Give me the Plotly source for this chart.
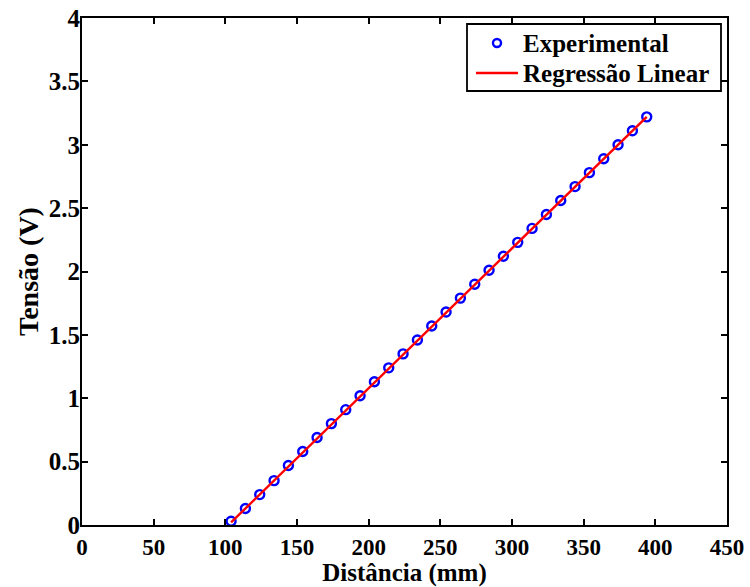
import plotly.graph_objects as go

# Experimental data
dist_mm = [104, 114, 124, 134, 144, 154, 164, 174, 184, 194,
           204, 214, 224, 234, 244, 254, 264, 274, 284, 294,
           304, 314, 324, 334, 344, 354, 364, 374, 384, 394]
tensao_v = [0.03, 0.13, 0.24, 0.35, 0.47, 0.58, 0.69, 0.80, 0.91, 1.02,
            1.13, 1.24, 1.35, 1.46, 1.57, 1.68, 1.79, 1.90, 2.01, 2.12,
            2.23, 2.34, 2.45, 2.56, 2.67, 2.78, 2.89, 3.00, 3.11, 3.22]

# Linear regression endpoints
reg_x = [104, 394]
reg_y = [0.02, 3.22]

x_ticks = [0, 50, 100, 150, 200, 250, 300, 350, 400, 450]
x_tick_labels = ["0", "50", "100", "150", "200", "250", "300", "350", "400", "450"]
y_ticks = [0, 0.5, 1, 1.5, 2, 2.5, 3, 3.5, 4]
y_tick_labels = ["0", "0.5", "1", "1.5", "2", "2.5", "3", "3.5", "4"]

series_names = ["Experimental", "Regressão Linear"]

FONT = "Liberation Serif"
BLUE = "#0000ff"
RED = "#ff0000"

fig = go.Figure()
fig.add_trace(go.Scatter(
    x=dist_mm, y=tensao_v, mode="markers", name=series_names[0],
    marker=dict(symbol="circle-open", size=9, color=BLUE,
                line=dict(width=2.4, color=BLUE)),
    showlegend=False,
))
fig.add_trace(go.Scatter(
    x=reg_x, y=reg_y, mode="lines", name=series_names[1],
    line=dict(color=RED, width=2.4),
    showlegend=False,
))

axis_common = dict(
    showline=True, linecolor="black", linewidth=2.2, mirror="allticks",
    ticks="inside", ticklen=6, tickwidth=2, tickcolor="black",
    showgrid=False, zeroline=False, automargin=False,
)

W, H = 750, 587
ML, MR, MT, MB = 82, 23, 18, 62
PW, PH = W - ML - MR, H - MT - MB


def px_x(p):
    return (p - ML) / PW


def px_y(p):
    return (H - MB - p) / PH


# Legend box (drawn with shapes + text annotations)
shapes = [
    dict(type="rect", xref="paper", yref="paper",
         x0=px_x(467), x1=px_x(721), y0=px_y(91), y1=px_y(24),
         line=dict(color="black", width=1.8), fillcolor="white", layer="above"),
    dict(type="circle", xref="paper", yref="paper",
         x0=px_x(493), x1=px_x(501), y0=px_y(47), y1=px_y(39),
         line=dict(color=BLUE, width=2.4), layer="above"),
    dict(type="line", xref="paper", yref="paper",
         x0=px_x(476), x1=px_x(518), y0=px_y(73), y1=px_y(73),
         line=dict(color=RED, width=2.4), layer="above"),
]
annotations = [
    dict(text="<b>%s</b>" % series_names[0], xref="paper", yref="paper",
         x=px_x(521), y=px_y(43), xanchor="left", yanchor="middle",
         showarrow=False, font=dict(family=FONT, size=25, color="black")),
    dict(text="<b>%s</b>" % series_names[1], xref="paper", yref="paper",
         x=px_x(521), y=px_y(73), xanchor="left", yanchor="middle",
         showarrow=False, font=dict(family=FONT, size=25, color="black")),
]

fig.update_layout(
    width=W, height=H,
    margin=dict(l=ML, r=MR, t=MT, b=MB),
    paper_bgcolor="white", plot_bgcolor="white",
    font=dict(family=FONT, color="black"),
    xaxis=dict(range=[0, 450], tickvals=x_ticks,
               ticktext=["<b>%s</b>" % t for t in x_tick_labels],
               tickfont=dict(family=FONT, size=23, color="black"),
               **axis_common,
               title=dict(text="<b>Distância (mm)</b>", standoff=0,
                          font=dict(family=FONT, size=25, color="black"))),
    yaxis=dict(range=[0, 4], tickvals=y_ticks,
               ticktext=["<b>%s</b>" % t for t in y_tick_labels],
               tickfont=dict(family=FONT, size=25, color="black"),
               ticklabelstandoff=-5, **axis_common,
               title=dict(text="<b>Tensão (V)</b>", standoff=2,
                          font=dict(family=FONT, size=28, color="black"))),
    shapes=shapes,
    annotations=annotations,
    showlegend=False,
)

fig.write_html("out.html", config={"displayModeBar": False},
               post_script="document.body.style.margin='0';document.body.style.padding='0';")
